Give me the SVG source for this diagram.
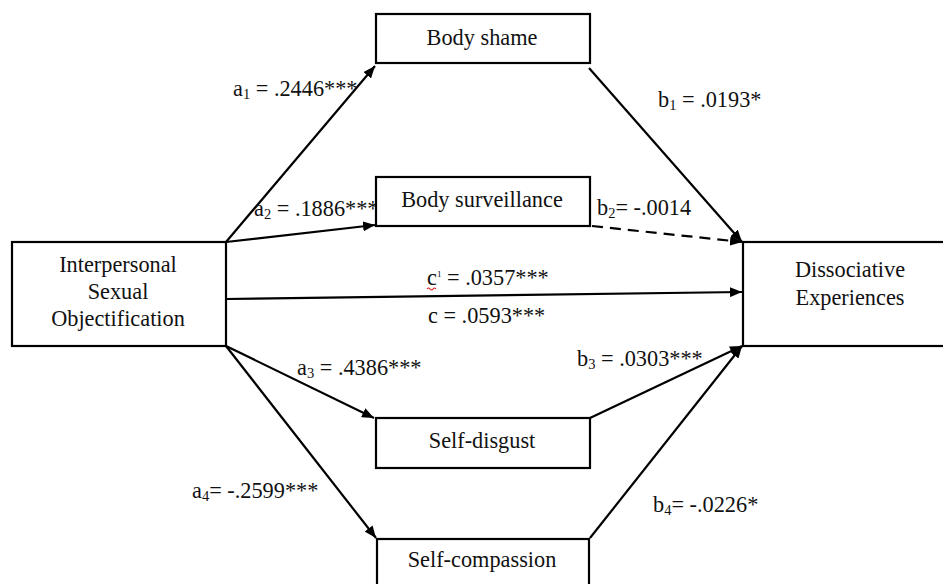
<svg xmlns="http://www.w3.org/2000/svg" width="943" height="584" viewBox="0 0 943 584">
<defs>
<marker id="ah" viewBox="0 0 12 10" refX="12" refY="5" markerWidth="12" markerHeight="10" markerUnits="userSpaceOnUse" orient="auto">
<path d="M0,0 L12,5 L0,10 Z" fill="#000"/>
</marker>
<style>
.box{fill:#fff;stroke:#000;stroke-width:2.2}
.t{font-size:22.3px;fill:#111}
.c{text-anchor:middle}
.ln{stroke:#000;stroke-width:2.2;fill:none;marker-end:url(#ah)}
.dash{stroke-dasharray:11 7}
.sub{font-size:14.5px}
</style>
</defs>
<rect width="943" height="584" fill="#fff"/>
<g id="connectors">
<line class="ln" x1="226" y1="242" x2="375" y2="66"/>
<line class="ln" x1="226" y1="242" x2="375" y2="225"/>
<line class="ln" x1="226" y1="299" x2="742" y2="292"/>
<line class="ln" x1="226" y1="346" x2="374" y2="418"/>
<line class="ln" x1="226" y1="346" x2="376" y2="538"/>
<line class="ln" x1="589" y1="68" x2="742" y2="242"/>
<line class="ln dash" x1="592" y1="226" x2="742" y2="242"/>
<line class="ln" x1="590" y1="418" x2="742" y2="346"/>
<line class="ln" x1="590" y1="538" x2="742" y2="346"/>
</g>
<g font-family="'Liberation Serif', 'DejaVu Serif', 'Times New Roman', serif">
<g id="labels">
<text class="t" x="233" y="96">a<tspan class="sub" dy="3">1</tspan><tspan dy="-3"> = .2446***</tspan></text>
<text class="t" x="254" y="216">a<tspan class="sub" dy="3">2</tspan><tspan dy="-3"> = .1886***</tspan></text>
<text class="t" x="427" y="285">c<tspan font-size="9" dy="-8">1</tspan><tspan dy="8"> = .0357***</tspan></text>
<path d="M427,289 q1.5,-2 3,0 t3,0 t3,0" stroke="#d22" stroke-width="1.2" fill="none"/>
<text class="t" x="428" y="323">c = .0593***</text>
<text class="t" x="658" y="107">b<tspan class="sub" dy="3">1</tspan><tspan dy="-3"> = .0193*</tspan></text>
<text class="t" x="597" y="215">b<tspan class="sub" dy="3">2</tspan><tspan dy="-3">= -.0014</tspan></text>
<text class="t" x="297" y="375">a<tspan class="sub" dy="3">3</tspan><tspan dy="-3"> = .4386***</tspan></text>
<text class="t" x="577" y="366">b<tspan class="sub" dy="3">3</tspan><tspan dy="-3"> = .0303***</tspan></text>
<text class="t" x="192" y="498">a<tspan class="sub" dy="3">4</tspan><tspan dy="-3">= -.2599***</tspan></text>
<text class="t" x="653" y="512">b<tspan class="sub" dy="3">4</tspan><tspan dy="-3">= -.0226*</tspan></text>
</g>
<g id="node-iso">
<rect class="box" x="12" y="242" width="214" height="104"/>
<text class="t c" x="118" y="272">Interpersonal</text>
<text class="t c" x="118" y="299">Sexual</text>
<text class="t c" x="118" y="326">Objectification</text>
</g>
<g id="node-body-shame">
<rect class="box" x="376" y="14" width="214" height="49"/>
<text class="t c" x="482" y="45">Body shame</text>
</g>
<g id="node-body-surveillance">
<rect class="box" x="376" y="177" width="214" height="49"/>
<text class="t c" x="482" y="207">Body surveillance</text>
</g>
<g id="node-self-disgust">
<rect class="box" x="376" y="418" width="214" height="50"/>
<text class="t c" x="482" y="448">Self-disgust</text>
</g>
<g id="node-self-compassion">
<rect class="box" x="377" y="539" width="212" height="60"/>
<text class="t c" x="482" y="567">Self-compassion</text>
</g>
<g id="node-dissociative">
<rect class="box" x="743" y="242" width="210" height="104"/>
<text class="t c" x="850" y="277">Dissociative</text>
<text class="t c" x="850" y="305">Experiences</text>
</g>
</g>
</svg>
